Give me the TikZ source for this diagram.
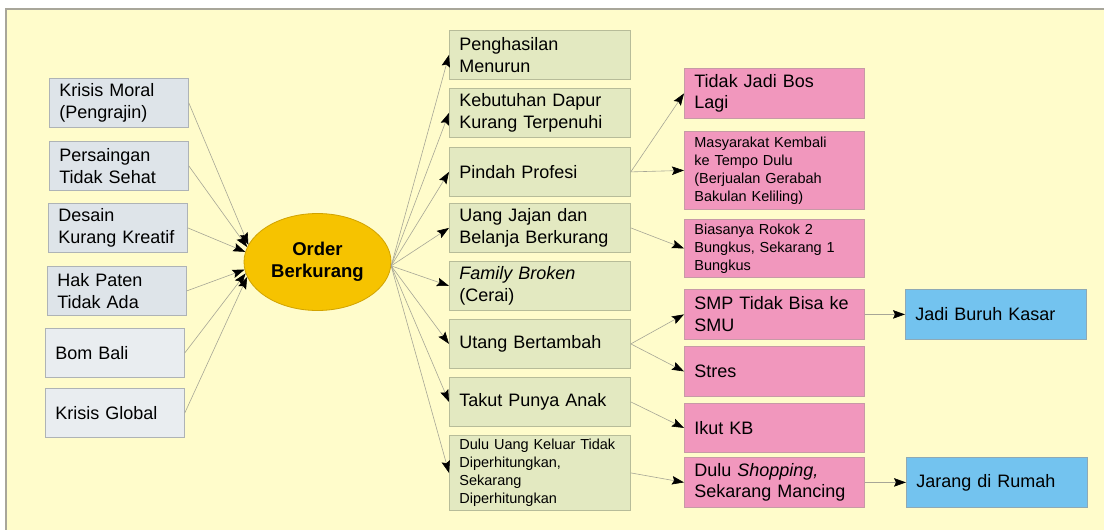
\documentclass[tikz,border=0pt]{standalone}
\usepackage{fontspec}
\setmainfont{Liberation Sans}
\usetikzlibrary{arrows.meta,positioning,shapes.geometric}
\definecolor{bgyellow}{HTML}{FFFCCB}
\definecolor{framegray}{HTML}{A8A69A}
\definecolor{leftfill}{HTML}{DEE4E9}
\definecolor{leftfilltwo}{HTML}{E9EDF0}
\definecolor{leftline}{HTML}{AEB3B6}
\definecolor{midfill}{HTML}{E3E9C1}
\definecolor{midline}{HTML}{B7BC99}
\definecolor{pinkfill}{HTML}{F197BD}
\definecolor{pinkline}{HTML}{C79AA6}
\definecolor{bluefill}{HTML}{73C3EF}
\definecolor{blueline}{HTML}{8EA9B5}
\definecolor{orderfill}{HTML}{F6C300}
\definecolor{orderline}{HTML}{D1A300}
\definecolor{linegray}{HTML}{A7A696}
\tikzset{
  bigtext/.style   = {font=\fontsize{18}{21.7}\selectfont},
  smalltext/.style = {font=\fontsize{14.5}{18}\selectfont},
  cbox/.style      = {rectangle, draw, line width=0.8pt, anchor=north west,
                      inner xsep=10pt, inner ysep=0pt, align=left, bigtext},
  causebox/.style  = {cbox, draw=leftline, fill=leftfill,
                      minimum width=139pt, minimum height=49pt, text width=119pt},
  effectbox/.style = {cbox, draw=midline, fill=midfill,
                      minimum width=181pt, minimum height=49pt, text width=161pt},
  pinkbox/.style   = {cbox, draw=pinkline, fill=pinkfill,
                      minimum width=180pt, minimum height=50pt, text width=160pt},
  bluebox/.style   = {cbox, draw=blueline, fill=bluefill,
                      minimum width=181pt, minimum height=50pt, text width=161pt},
  conn/.style      = {draw=linegray, line width=0.6pt,
                      -{Stealth[length=12pt,width=8.5pt,inset=2pt,color=black]}},
}

\begin{document}
\begin{tikzpicture}[x=1pt,y=-1pt]
  \useasboundingbox (0,0) rectangle (1104,530);
  \fill[white] (0,0) rectangle (1104,530);
  \fill[bgyellow] (6,9) rectangle (1104,530);
  \draw[framegray,line width=1.2pt] (6,530) -- (6,9) -- (1104,9);

  % causes
  \node[causebox] (krisis) at (49,78)  {Krisis Moral\\(Pengrajin)};
  \node[causebox] (saing)  at (49,141) {Persaingan\\Tidak Sehat};
  \node[causebox] (desain) at (48,203) {Desain\\Kurang Kreatif};
  \node[causebox] (paten)  at (47,266) {Hak Paten\\Tidak Ada};
  \node[causebox,fill=leftfilltwo] (bom)    at (45,328) {Bom Bali};
  \node[causebox,fill=leftfilltwo] (global) at (45,388) {Krisis Global};

  \node[ellipse, draw=orderline, fill=orderfill, line width=0.8pt,
        minimum width=147pt, minimum height=97pt, align=center,
        font=\fontsize{18.5}{21.7}\selectfont\bfseries] (order) at (317.5,262)
       {Order\\Berkurang};

  % effects
  \node[effectbox] (hasil)  at (449,30)  {Penghasilan\\Menurun};
  \node[effectbox] (dapur)  at (449,88)  {Kebutuhan Dapur\\Kurang Terpenuhi};
  \node[effectbox] (pindah) at (449,147) {Pindah Profesi};
  \node[effectbox] (jajan)  at (449,203) {Uang Jajan dan\\Belanja Berkurang};
  \node[effectbox] (family) at (449,261) {\textit{Family Broken}\\(Cerai)};
  \node[effectbox] (utang)  at (449,319) {Utang Bertambah};
  \node[effectbox] (takut)  at (449,377) {Takut Punya Anak};
  \node[effectbox,smalltext,minimum height=75pt] (dulu) at (449,435)
       {Dulu Uang Keluar Tidak\\Diperhitungkan,\\Sekarang\\Diperhitungkan};

  % further effects
  \node[pinkbox] (bos)   at (684,68)  {Tidak Jadi Bos\\Lagi};
  \node[pinkbox,smalltext,minimum height=78pt] (tempo) at (684,131)
       {Masyarakat Kembali\\ke Tempo Dulu\\(Berjualan Gerabah\\Bakulan Keliling)};
  \node[pinkbox,smalltext,minimum height=58pt] (rokok) at (684,219)
       {Biasanya Rokok 2\\Bungkus, Sekarang 1\\Bungkus};
  \node[pinkbox] (smp)   at (684,289) {SMP Tidak Bisa ke\\SMU};
  \node[pinkbox] (stres) at (684,346) {Stres};
  \node[pinkbox,minimum height=49pt] (kb) at (684,403) {Ikut KB};
  \node[pinkbox] (shop)  at (684,457) {Dulu \textit{Shopping,}\\Sekarang Mancing};

  \node[bluebox] (buruh) at (905,289) {Jadi Buruh Kasar};
  \node[bluebox] (rumah) at (906,457) {Jarang di Rumah};

  % connectors
  \draw[conn] (krisis.east) -- (order.166);
  \draw[conn] (saing.east)  -- (order.168);
  \draw[conn] (desain.east) -- (order.172);
  \draw[conn] (paten.east)  -- (order.186);
  \draw[conn] (bom.east)    -- (order.189);
  \draw[conn] (global.east) -- (order.192);

  \foreach \m in {hasil,dapur,pindah,jajan,family,utang,takut,dulu}
    \draw[conn] (order.-3) -- (\m.west);

  \draw[conn] (pindah.east) -- (bos.west);
  \draw[conn] (pindah.east) -- (tempo.west);
  \draw[conn] (jajan.east)  -- (rokok.west);
  \draw[conn] (utang.east)  -- (smp.west);
  \draw[conn] (utang.east)  -- (stres.west);
  \draw[conn] (takut.east)  -- (kb.west);
  \draw[conn] (dulu.east)   -- (shop.west);
  \draw[conn] (smp.east)    -- (buruh.west);
  \draw[conn] (shop.east)   -- (rumah.west);
\end{tikzpicture}
\end{document}
